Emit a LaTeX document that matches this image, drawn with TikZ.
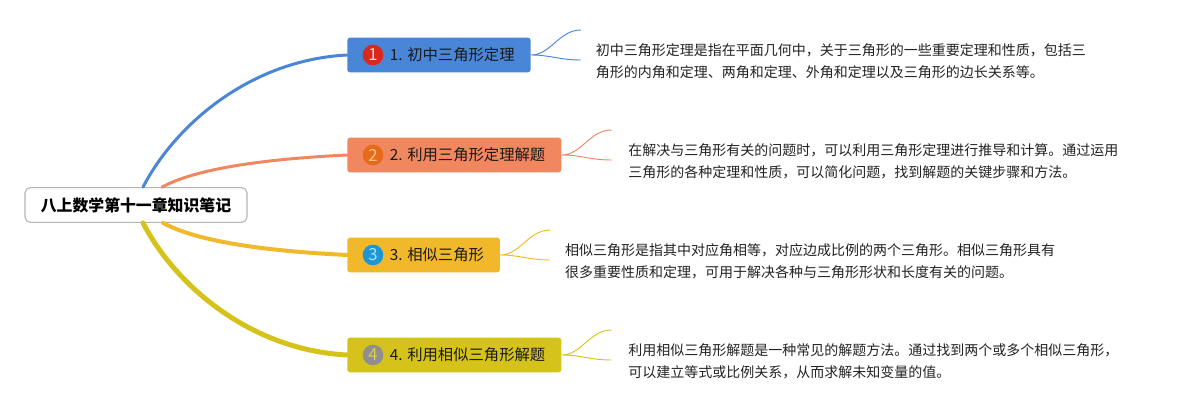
\documentclass[tikz,border=0pt]{standalone}
\usepackage{fontspec}
\setmainfont{Noto Sans CJK SC}
\usetikzlibrary{positioning,calc}
\definecolor{rootgray}{HTML}{B4B4B4}
\definecolor{mmblue}{HTML}{4A86D8}
\definecolor{mmorange}{HTML}{F1875F}
\definecolor{mmyellow}{HTML}{F2B82B}
\definecolor{mmolive}{HTML}{D5C31B}
\definecolor{numred}{HTML}{D82A1C}
\definecolor{numorange}{HTML}{E7691A}
\definecolor{numblue}{HTML}{1E96D5}
\definecolor{numgray}{HTML}{8F8F8F}
\definecolor{notetext}{HTML}{222222}

\begin{document}
\begin{tikzpicture}[x=0.75pt, y=-0.75pt,
      root/.style={draw=rootgray, fill=white, rounded corners=4pt, line width=0.8pt,
                   minimum width=166.5pt, minimum height=26pt,
                   font=\fontsize{11.9}{14}\selectfont\bfseries},
      topic/.style={anchor=west, rounded corners=2pt, minimum height=26pt, inner xsep=0pt,
                    font=\fontsize{11.5}{14}\selectfont, text=black!90,
                    execute at begin node=\hspace*{32pt},
                    execute at end node=\hspace*{12pt}},
      num/.style={circle, inner sep=0pt, minimum size=15.5pt, font=\fontsize{12.5}{13}\selectfont},
      note/.style={anchor=west, align=left, inner sep=0pt, text=notetext,
                   font=\fontsize{10.5}{16.5}\selectfont},
      trunk/.style={line cap=round},
      twig/.style={line width=0.7pt}
  ]
    \useasboundingbox (0,0) rectangle (1189,410);

    \node[root] (root) at (136,205) {八上数学第十一章知识笔记};

    \node[topic, fill=mmblue]   (b1) at (347,55)  {1. 初中三角形定理};
    \node[topic, fill=mmorange] (b2) at (347,155) {2. 利用三角形定理解题};
    \node[topic, fill=mmyellow] (b3) at (347,255) {3. 相似三角形};
    \node[topic, fill=mmolive]  (b4) at (347,355) {4. 利用相似三角形解题};

    \node[num, fill=numred,    text=red!15]         (n1) at ($(b1.west)+(26,0)$) {1};
    \node[num, fill=numorange, text=orange!45]      (n2) at ($(b2.west)+(26,0)$) {2};
    \node[num, fill=numblue,   text=cyan!35]        (n3) at ($(b3.west)+(26,0)$) {3};
    \node[num, fill=numgray,   text=mmolive!80]     (n4) at ($(b4.west)+(26,0)$) {4};

    \draw[trunk, mmblue, line width=2.25pt]
      ($(root.north)+(7,0)$) .. controls +(32,-62) and +(-97,5) .. (b1.west);
    \draw[trunk, mmorange, line width=2.25pt]
      ($(root.north)+(26,0)$) .. controls +(40,-22) and +(-60,3) .. (b2.west);
    \draw[trunk, mmyellow, line width=3pt]
      ($(root.south)+(27,0)$) .. controls +(40,22) and +(-60,-3) .. (b3.west);
    \draw[trunk, mmolive, line width=3.75pt]
      ($(root.south)+(7,0)$) .. controls +(32,62) and +(-97,-5) .. (b4.west);

    \coordinate (f1a) at ($(b1.east)+(50,-25)$);
    \coordinate (f1b) at ($(b1.east)+(50,5)$);
    \coordinate (f2a) at ($(b2.east)+(50,-25)$);
    \coordinate (f2b) at ($(b2.east)+(50,5)$);
    \coordinate (f3a) at ($(b3.east)+(50,-25)$);
    \coordinate (f3b) at ($(b3.east)+(50,5)$);
    \coordinate (f4a) at ($(b4.east)+(50,-25)$);
    \coordinate (f4b) at ($(b4.east)+(50,5)$);

    \draw[twig, mmblue] (f1a) .. controls +(-22,0) and +(20,0) .. (b1.east)
                        .. controls +(20,0) and +(-22,0) .. (f1b);
    \draw[twig, mmorange] (f2a) .. controls +(-22,0) and +(20,0) .. (b2.east)
                          .. controls +(20,0) and +(-22,0) .. (f2b);
    \draw[twig, mmyellow] (f3a) .. controls +(-22,0) and +(20,0) .. (b3.east)
                          .. controls +(20,0) and +(-22,0) .. (f3b);
    \draw[twig, mmolive] (f4a) .. controls +(-22,0) and +(20,0) .. (b4.east)
                         .. controls +(20,0) and +(-22,0) .. (f4b);

    \node[note, right=11pt of f1b, yshift=-1pt] (d1) {初中三角形定理是指在平面几何中，关于三角形的一些重要定理和性质，包括三\\角形的内角和定理、两角和定理、外角和定理以及三角形的边长关系等。};
    \node[note, right=12.5pt of f2b, yshift=-1pt] (d2) {在解决与三角形有关的问题时，可以利用三角形定理进行推导和计算。通过运用\\三角形的各种定理和性质，可以简化问题，找到解题的关键步骤和方法。};
    \node[note, right=11pt of f3b, yshift=-1pt] (d3) {相似三角形是指其中对应角相等，对应边成比例的两个三角形。相似三角形具有\\很多重要性质和定理，可用于解决各种与三角形形状和长度有关的问题。};
    \node[note, right=12.5pt of f4b, yshift=-1pt] (d4) {利用相似三角形解题是一种常见的解题方法。通过找到两个或多个相似三角形，\\可以建立等式或比例关系，从而求解未知变量的值。};
  \end{tikzpicture}
\end{document}
